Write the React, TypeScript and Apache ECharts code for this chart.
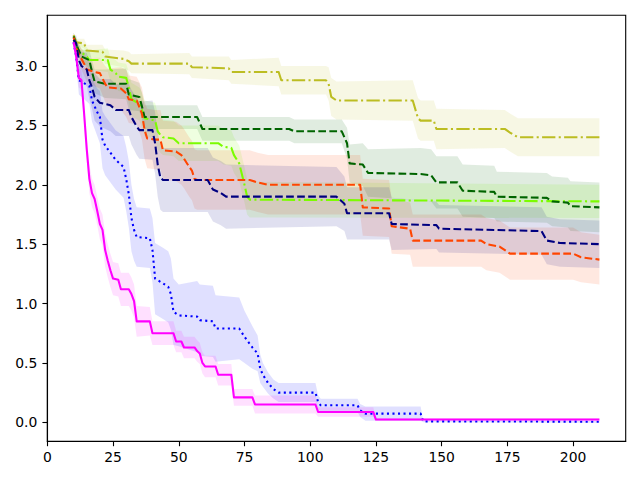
import React, { useEffect, useRef } from "react";
import * as echarts from "echarts";

// ---- tick labels ----
const xTicks = [0, 25, 50, 75, 100, 125, 150, 175, 200];
const yTicks = [0, 0.5, 1.0, 1.5, 2.0, 2.5, 3.0];

// ---- magenta solid ----
const magentaX = [10,11,12,13,14,15,16,17,18,19,20,21,22,23,24,25,27,28,31,32,33,34,39,40,48,49,51,52,56,57,58,59,60,64,65,70,71,78,79,102,103,124,125,210];
const magentaY = [3.2,3.08,2.9,2.88,2.6,2.3,2.05,1.93,1.88,1.78,1.67,1.62,1.45,1.36,1.28,1.21,1.2,1.12,1.12,1.08,1.02,0.85,0.85,0.75,0.75,0.68,0.68,0.63,0.63,0.6,0.58,0.5,0.47,0.47,0.4,0.4,0.21,0.21,0.15,0.15,0.087,0.087,0.023,0.023];
const magentaS = [0.04,0.06,0.08,0.08,0.1,0.1,0.12,0.12,0.12,0.12,0.13,0.13,0.14,0.14,0.14,0.14,0.14,0.14,0.14,0.14,0.14,0.13,0.12,0.1,0.1,0.09,0.09,0.09,0.09,0.09,0.09,0.09,0.09,0.09,0.09,0.09,0.07,0.07,0.075,0.075,0.04,0.04,0.012,0.012];

// ---- blue dotted ----
const blueX = [10,11,12,16,17,19,20,21,22,26,29,30,31,32,33,34,39,40,41,44,46,47,48,50,57,58,63,64,73,75,78,80,81,82,84,86,88,102,103,104,118,119,121,142,143,210];
const blueY = [3.2,3.08,2.88,2.83,2.71,2.61,2.57,2.38,2.33,2.21,2.15,2.05,1.92,1.72,1.62,1.56,1.55,1.45,1.21,1.17,1.14,1.08,0.93,0.9,0.89,0.86,0.85,0.79,0.79,0.72,0.63,0.58,0.45,0.4,0.33,0.28,0.25,0.25,0.17,0.143,0.143,0.1,0.073,0.073,0.008,0.005];
const blueS = [0.05,0.08,0.12,0.15,0.18,0.2,0.22,0.24,0.25,0.25,0.26,0.27,0.28,0.28,0.26,0.25,0.25,0.27,0.3,0.3,0.3,0.3,0.28,0.26,0.3,0.3,0.3,0.28,0.26,0.22,0.18,0.15,0.12,0.1,0.09,0.08,0.08,0.08,0.06,0.055,0.055,0.055,0.06,0.06,0.008,0.008];

// ---- navy dashed ----
const navyX = [10,11,12,13,15,16,17,18,20,24,26,31,32,34,35,40,41,42,43,44,61,63,66,68,110,113,114,130,131,148,149,188,190,195,210];
const navyY = [3.22,3.19,3.05,3.0,2.97,2.88,2.82,2.74,2.69,2.67,2.63,2.63,2.57,2.49,2.46,2.46,2.35,2.17,2.06,2.04,2.04,1.96,1.93,1.9,1.9,1.84,1.76,1.76,1.67,1.66,1.63,1.61,1.53,1.51,1.5];
const navyS = [0.04,0.07,0.1,0.12,0.14,0.16,0.18,0.2,0.2,0.22,0.22,0.22,0.23,0.24,0.24,0.25,0.26,0.27,0.27,0.27,0.27,0.27,0.27,0.27,0.25,0.23,0.22,0.22,0.22,0.2,0.2,0.2,0.2,0.2,0.2];

// ---- orangered dashed ----
const orangeX = [10,11,12,14,15,18,20,22,23,28,30,31,34,36,37,38,41,43,44,49,51,52,54,55,56,57,77,80,84,119,120,130,131,138,139,165,167,172,176,200,203,210];
const orangeY = [3.24,3.15,3.1,3.02,2.97,2.95,2.94,2.85,2.82,2.81,2.77,2.72,2.71,2.6,2.46,2.39,2.38,2.38,2.29,2.28,2.25,2.22,2.15,2.12,2.05,2.04,2.04,2.02,2.0,2.0,1.81,1.8,1.65,1.63,1.53,1.53,1.5,1.48,1.42,1.42,1.39,1.37];
const orangeS = [0.04,0.06,0.08,0.1,0.1,0.12,0.13,0.15,0.16,0.18,0.2,0.2,0.2,0.22,0.24,0.25,0.25,0.25,0.25,0.25,0.25,0.25,0.25,0.25,0.25,0.25,0.25,0.25,0.25,0.25,0.24,0.24,0.23,0.22,0.22,0.22,0.22,0.22,0.22,0.22,0.21,0.21];

// ---- darkgreen dashed ----
const greenX = [10,11,13,16,17,18,22,30,31,35,36,37,57,59,92,94,112,114,115,120,122,142,146,148,156,158,170,171,190,192,198,199,210];
const greenY = [3.25,3.18,3.08,3.05,2.95,2.87,2.85,2.85,2.76,2.74,2.66,2.57,2.57,2.47,2.47,2.45,2.45,2.35,2.18,2.17,2.1,2.09,2.08,2.02,2.02,1.95,1.94,1.9,1.89,1.86,1.85,1.82,1.81];
const greenS = [0.03,0.05,0.06,0.08,0.1,0.1,0.12,0.13,0.13,0.12,0.11,0.1,0.1,0.1,0.1,0.1,0.1,0.13,0.16,0.18,0.2,0.22,0.22,0.22,0.22,0.22,0.22,0.21,0.21,0.21,0.21,0.21,0.21];

// ---- lawngreen dash-dot ----
const lawnX = [10,11,12,15,16,23,24,26,27,30,31,32,35,36,37,41,42,43,44,48,50,65,67,70,71,73,75,76,77,210];
const lawnY = [3.22,3.18,3.13,3.08,3.05,3.05,2.97,2.94,2.91,2.9,2.82,2.72,2.68,2.63,2.56,2.54,2.45,2.42,2.4,2.39,2.35,2.35,2.32,2.31,2.25,2.18,2.0,1.9,1.875,1.86];
const lawnS = [0.03,0.05,0.06,0.08,0.08,0.1,0.1,0.11,0.12,0.12,0.13,0.14,0.14,0.15,0.15,0.15,0.15,0.15,0.15,0.15,0.15,0.15,0.15,0.15,0.15,0.15,0.15,0.15,0.15,0.14];

// ---- olive dash-dot ----
const oliveX = [10,11,14,15,21,22,29,31,32,54,55,69,70,88,89,106,107,108,110,139,141,142,147,148,174,176,179,210];
const oliveY = [3.26,3.2,3.19,3.13,3.12,3.08,3.06,3.04,3.02,3.02,2.99,2.98,2.95,2.95,2.88,2.88,2.85,2.74,2.71,2.71,2.56,2.54,2.54,2.47,2.47,2.44,2.4,2.4];
const oliveS = [0.02,0.03,0.04,0.05,0.06,0.06,0.07,0.08,0.08,0.09,0.09,0.1,0.1,0.12,0.12,0.12,0.14,0.16,0.16,0.17,0.17,0.17,0.17,0.17,0.16,0.16,0.16,0.16];

const DASHED = [7.7, 3.33];
const DOTTED = [2.08, 3.44];
const DASHDOT = [13.3, 3.33, 2.08, 3.33];

const SERIES = [
  { xs: oliveX, ys: oliveY, s: oliveS, color: [188, 189, 34], dash: DASHDOT },
  { xs: lawnX, ys: lawnY, s: lawnS, color: [124, 252, 0], dash: DASHDOT },
  { xs: greenX, ys: greenY, s: greenS, color: [0, 100, 0], dash: DASHED },
  { xs: orangeX, ys: orangeY, s: orangeS, color: [255, 69, 0], dash: DASHED },
  { xs: navyX, ys: navyY, s: navyS, color: [0, 0, 128], dash: DASHED },
  { xs: blueX, ys: blueY, s: blueS, color: [0, 0, 255], dash: DOTTED },
  { xs: magentaX, ys: magentaY, s: magentaS, color: [255, 0, 255], dash: "solid" as any },
];

export default function App() {
  const ref = useRef<HTMLDivElement>(null);
  useEffect(() => {
    if (!ref.current) return;
    const chart = echarts.init(ref.current, undefined, { renderer: "svg" });
    const series: any[] = [];
    SERIES.forEach((d) => {
      const rgb = d.color.join(",");
      series.push({
        type: "custom",
        silent: true,
        z: 1,
        data: [[d.xs[0], d.ys[0]]],
        renderItem: (_p: any, api: any) => {
          const pts: number[][] = [];
          for (let i = 0; i < d.xs.length; i++) pts.push(api.coord([d.xs[i], d.ys[i] + d.s[i]]));
          for (let i = d.xs.length - 1; i >= 0; i--) pts.push(api.coord([d.xs[i], d.ys[i] - d.s[i]]));
          return { type: "polygon", shape: { points: pts }, style: { fill: `rgba(${rgb},0.12)`, stroke: null } };
        },
      });
    });
    SERIES.forEach((d, k) => {
      series.push({
        type: "line",
        silent: true,
        z: 3 + k,
        symbol: "none",
        showSymbol: false,
        data: d.xs.map((x, i) => [x, d.ys[i]]),
        lineStyle: { color: `rgb(${d.color.join(",")})`, width: 2.08, type: d.dash, cap: "butt", join: "round" },
        emphasis: { disabled: true },
      });
    });
    const axisFont = { color: "#000", fontSize: 13.9, fontFamily: "DejaVu Sans" };
    chart.setOption({
      animation: false,
      grid: { left: 47.3, right: 14.3, top: 15.3, bottom: 38.7, show: true, borderColor: "#000", borderWidth: 1.1, backgroundColor: "transparent" },
      xAxis: {
        type: "value", min: 0, max: 220,
        axisLine: { show: true, onZero: false, lineStyle: { color: "#000", width: 1.1 } },
        axisTick: { show: true, length: 4.9, lineStyle: { color: "#000", width: 1.1 }, customValues: xTicks },
        axisLabel: { ...axisFont, margin: 9, customValues: xTicks, formatter: (v: number) => String(v) },
        splitLine: { show: false },
      },
      yAxis: {
        type: "value", min: -0.16, max: 3.427,
        axisLine: { show: true, onZero: false, lineStyle: { color: "#000", width: 1.1 } },
        axisTick: { show: true, length: 4.9, lineStyle: { color: "#000", width: 1.1 }, customValues: yTicks },
        axisLabel: { ...axisFont, margin: 10, customValues: yTicks, formatter: (v: number) => v.toFixed(1) },
        splitLine: { show: false },
      },
      series,
    });
    return () => chart.dispose();
  }, []);
  return <div ref={ref} style={{ position: "fixed", left: 0, top: 0, width: 640, height: 480, background: "#fff" }} />;
}
